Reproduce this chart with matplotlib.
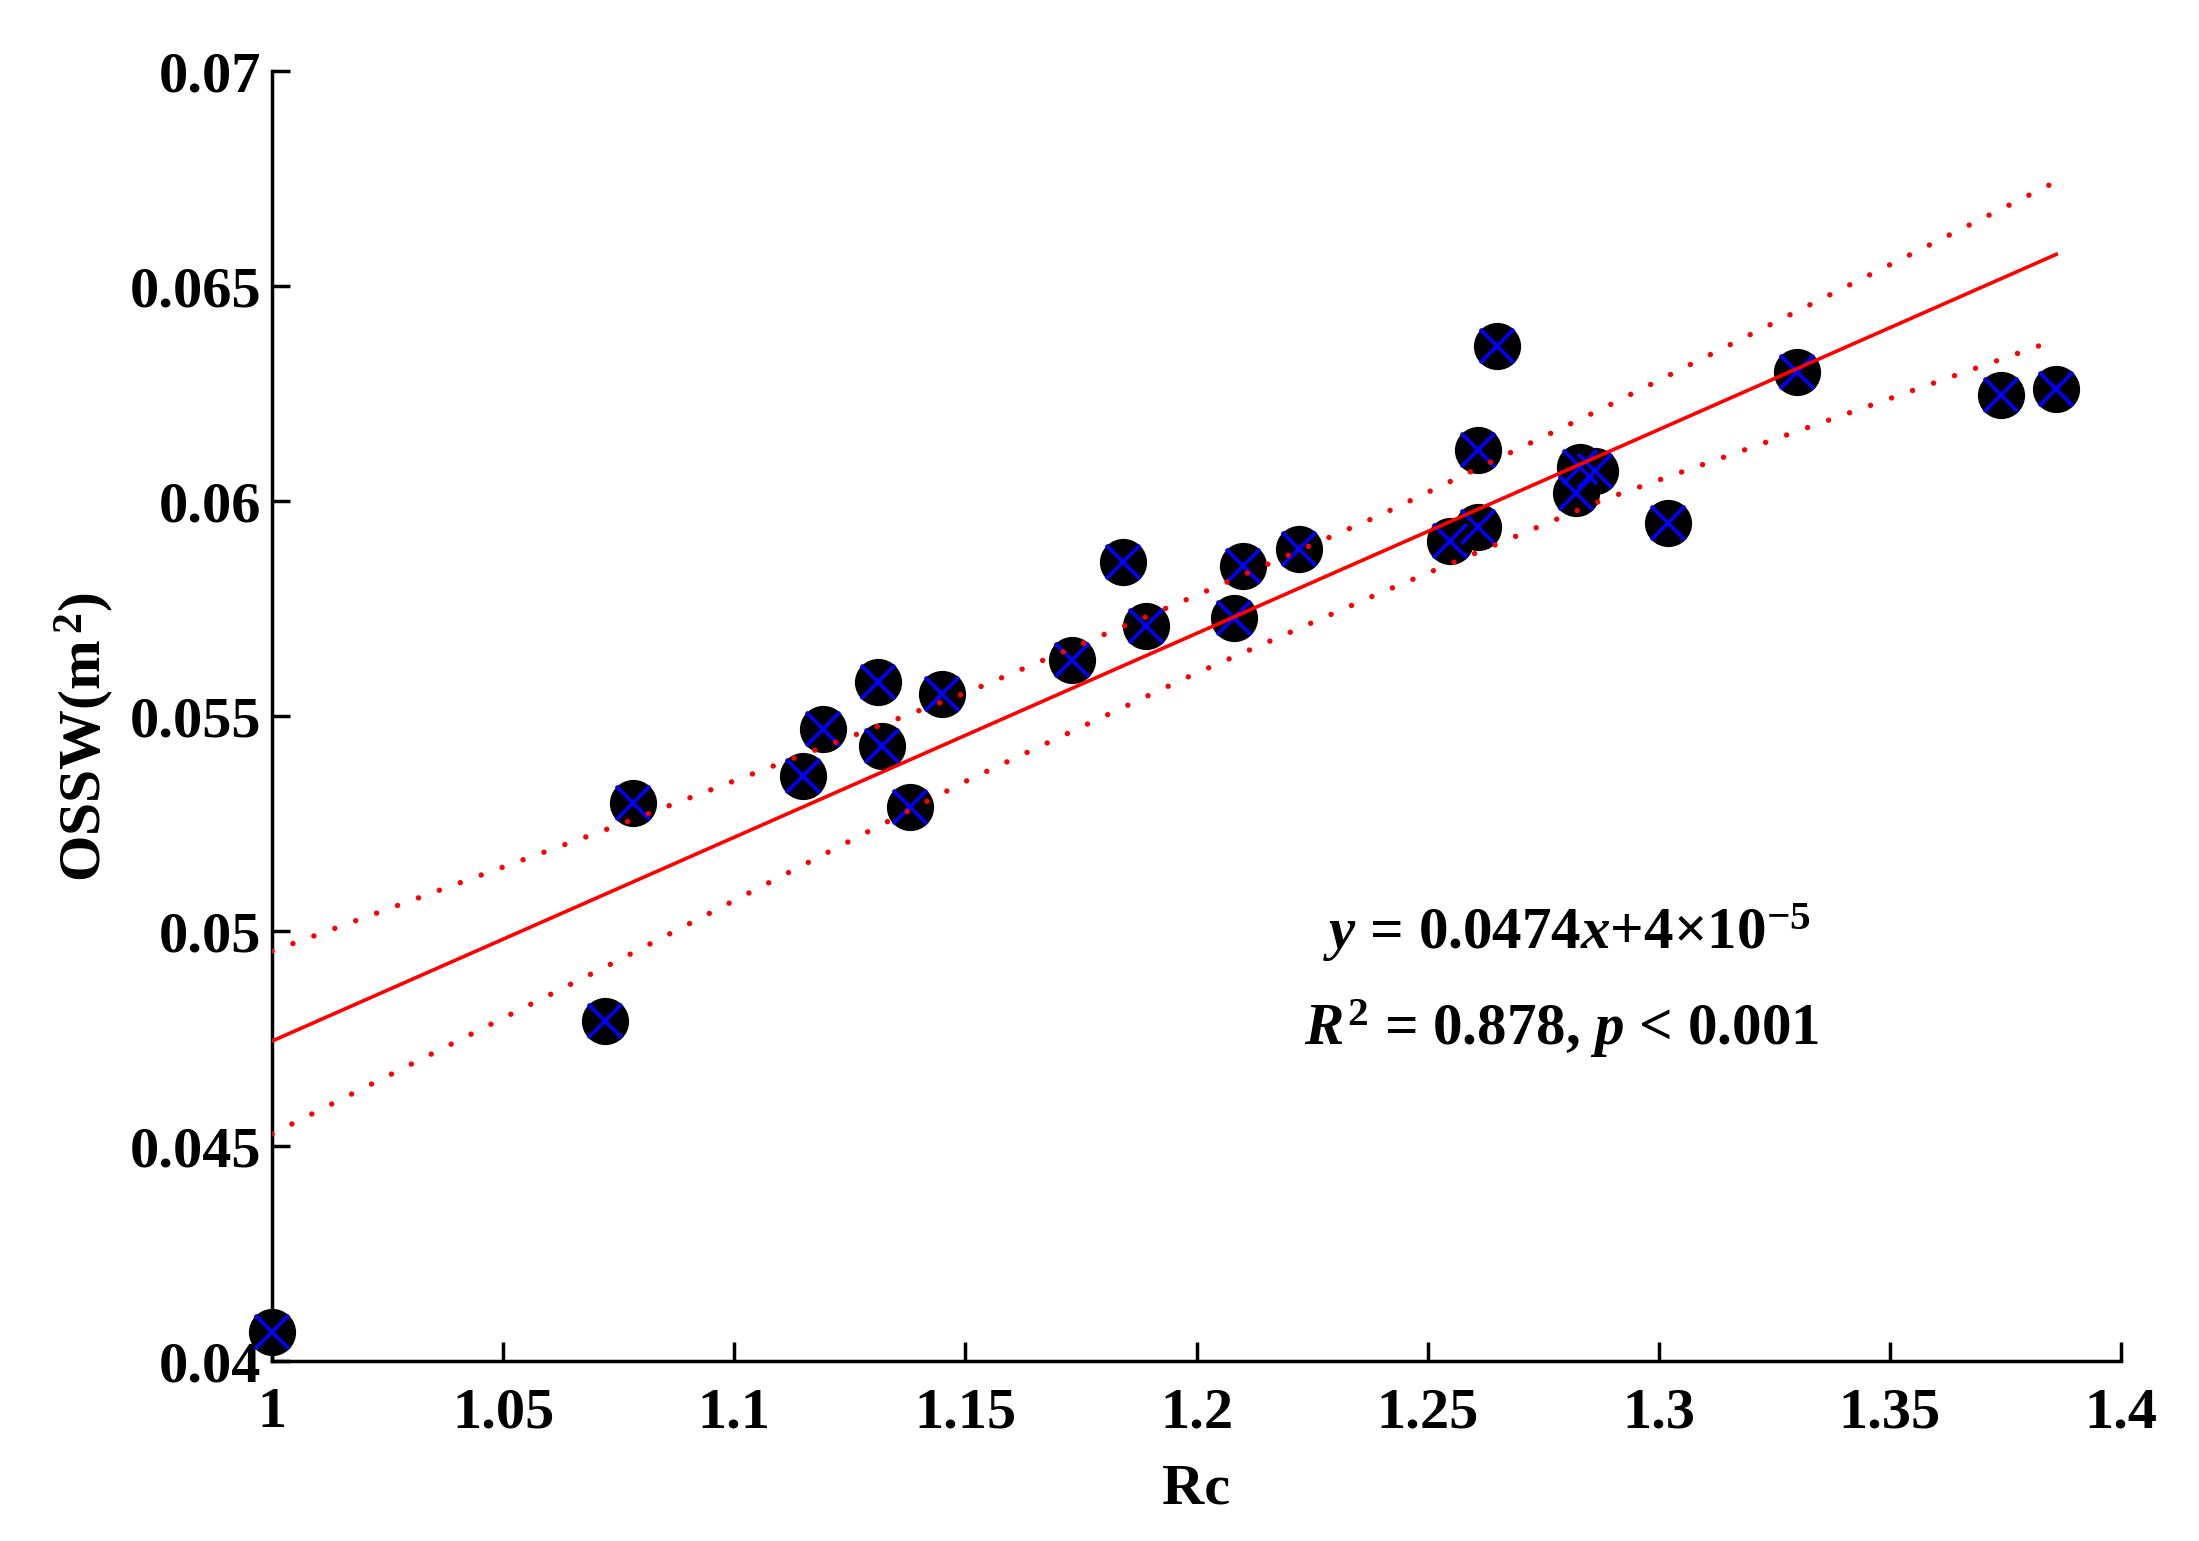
import matplotlib
matplotlib.use("Agg")
import matplotlib.pyplot as plt

plt.rcParams['font.family'] = ['Liberation Serif', 'DejaVu Serif']
plt.rcParams['font.weight'] = 'bold'
plt.rcParams['mathtext.fontset'] = 'custom'
plt.rcParams['mathtext.rm'] = 'Liberation Serif:bold'
plt.rcParams['mathtext.it'] = 'Liberation Serif:bold:italic'
plt.rcParams['mathtext.bf'] = 'Liberation Serif:bold'

# measured points (Rc vs OSSW)
rc = [1.0000, 1.0720, 1.0780, 1.1149, 1.1191, 1.1311, 1.1320, 1.1381, 1.1450,
      1.1731, 1.1841, 1.1891, 1.2081, 1.2101, 1.2222, 1.2548, 1.2609, 1.2609,
      1.2650, 1.2820, 1.2829, 1.2863, 1.3020, 1.3300, 1.3741, 1.3860]
ossw = [0.04067, 0.04791, 0.05298, 0.05361, 0.05470, 0.05580, 0.05431, 0.05289, 0.05551,
        0.05630, 0.05857, 0.05710, 0.05729, 0.05849, 0.05888, 0.05907, 0.05939, 0.06119,
        0.06360, 0.06019, 0.06079, 0.06069, 0.05948, 0.06299, 0.06247, 0.06260]

# fitted line y = 0.0474x + 4e-5
slope = 0.0474
intercept = 4e-5
fit_x = [1.0, 1.386]

# dotted bounds
bound_x = [1.0, 1.0733, 1.1506, 1.1988, 1.2397, 1.288, 1.386]
upper = [0.04953, 0.05240, 0.05556, 0.05775, 0.05967, 0.06216, 0.06743]
lower = [0.04528, 0.04923, 0.05351, 0.05594, 0.05786, 0.06003, 0.06375]

xticks = [1, 1.05, 1.1, 1.15, 1.2, 1.25, 1.3, 1.35, 1.4]
xticklabels = ['1', '1.05', '1.1', '1.15', '1.2', '1.25', '1.3', '1.35', '1.4']
yticks = [0.04, 0.045, 0.05, 0.055, 0.06, 0.065, 0.07]
yticklabels = ['0.04', '0.045', '0.05', '0.055', '0.06', '0.065', '0.07']

W, H = 2199, 1541
fig = plt.figure(figsize=(W / 100, H / 100), dpi=100)
ax = fig.add_axes([272 / W, 1 - 1361 / H, (2121 - 272) / W, (1361 - 71) / H])

ax.plot(rc, ossw, 'o', color='black', ms=34, mew=0, clip_on=False, zorder=3)
ax.plot(rc, ossw, 'x', color='blue', ms=25, mew=2.6, clip_on=False, zorder=4)

fit_y = [slope * v + intercept for v in fit_x]
ax.plot(fit_x, fit_y, '-', color='red', lw=2.6, zorder=5)
for b in (upper, lower):
    ax.plot(bound_x, b, color='red', lw=3.9, linestyle=(0, (0.01, 4.1)),
            dash_capstyle='round', zorder=5)

ax.set_xlim(1, 1.4)
ax.set_ylim(0.04, 0.07)
ax.set_xticks(xticks)
ax.set_xticklabels(xticklabels)
ax.set_yticks(yticks)
ax.set_yticklabels(yticklabels)
ax.spines['top'].set_visible(False)
ax.spines['right'].set_visible(False)
for s in ('left', 'bottom'):
    ax.spines[s].set_linewidth(2.5)
ax.tick_params(direction='in', width=2.5, labelsize=42)
ax.tick_params(axis='x', length=14, pad=19)
ax.tick_params(axis='y', length=13, pad=8)

fig.text(1196 / W, 1 - 1503 / H, 'Rc', fontsize=42, ha='center', va='baseline')
fig.text(84 / W, 1 - 737 / H, 'OSSW(m$^{\\,2}$)', fontsize=43, rotation=90,
         ha='center', va='center')

fig.text(1323 / W, 1 - 949 / H, r'$y$ = 0.0474$x$+4×10$^{-5}$', fontsize=42.5,
         ha='left', va='baseline')
fig.text(1304 / W, 1 - 1045 / H, r'$R^2$ = 0.878, $p$ < 0.001', fontsize=42.5,
         ha='left', va='baseline')

fig.savefig('out.png', dpi=100)
